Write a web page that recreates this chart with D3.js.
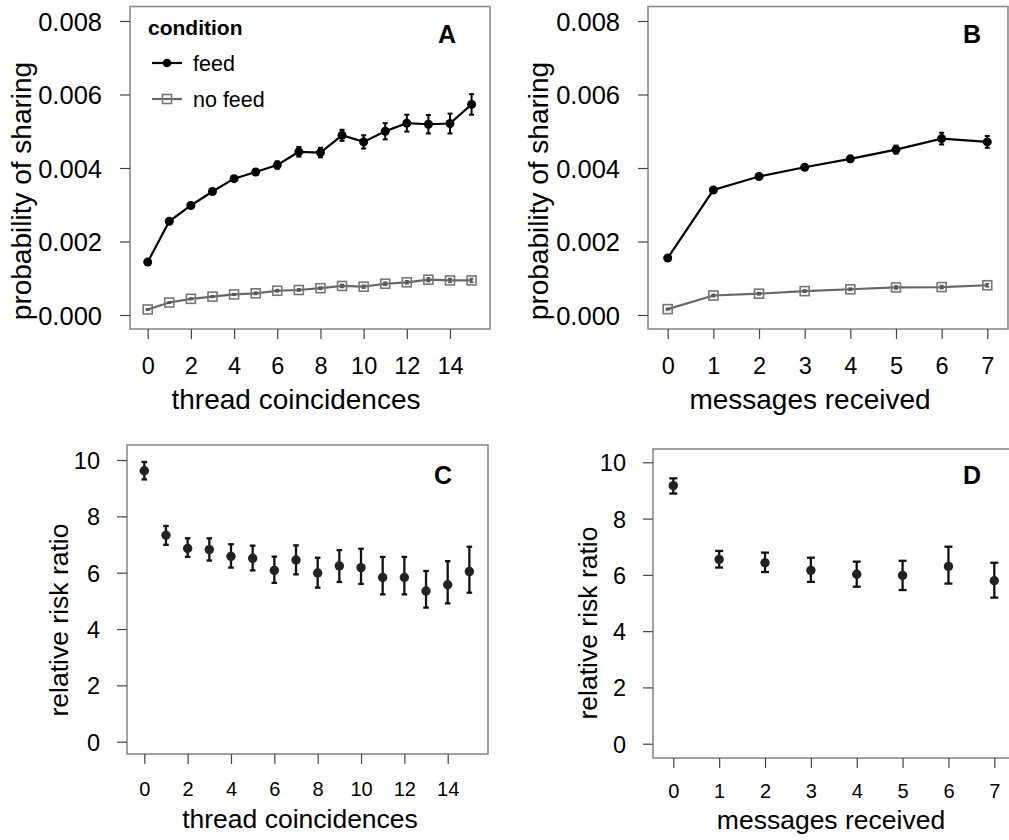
<!DOCTYPE html>
<html>
<head>
<meta charset="utf-8">
<script src="https://cdn.jsdelivr.net/npm/d3@7"></script>
<style>
  html, body { margin: 0; padding: 0; background: #fff; }
  svg { display: block; font-family: "Liberation Sans", Arial, Helvetica, sans-serif; }
</style>
</head>
<body>
<svg id="fig" width="1009" height="840"></svg>
<script>
// ---- data ----
const coincidences = d3.range(0, 16);          // thread coincidences 0..15
const messages = d3.range(0, 8);               // messages received 0..7

// panel A: probability of sharing by thread coincidences
const feedA     = [0.00144, 0.00255, 0.00298, 0.00336, 0.00371, 0.00389, 0.00408, 0.00444, 0.00442, 0.00489, 0.00471, 0.00500, 0.00522, 0.00519, 0.00521, 0.00573];
const feedAErr  = [0.00003, 0.00005, 0.00006, 0.00006, 0.00007, 0.00008, 0.00010, 0.00013, 0.00013, 0.00015, 0.00018, 0.00022, 0.00023, 0.00025, 0.00027, 0.00028];
const noFeedA    = [0.00015, 0.00034, 0.00044, 0.00050, 0.00056, 0.00059, 0.00066, 0.00068, 0.00073, 0.00079, 0.00077, 0.00085, 0.00089, 0.00096, 0.00094, 0.00094];
const noFeedAErr = [0.00002, 0.00002, 0.00002, 0.00002, 0.00002, 0.00003, 0.00003, 0.00003, 0.00003, 0.00004, 0.00004, 0.00004, 0.00004, 0.00005, 0.00005, 0.00005];

// panel B: probability of sharing by messages received
const feedB     = [0.00155, 0.00340, 0.00377, 0.00402, 0.00425, 0.00450, 0.00480, 0.00471];
const feedBErr  = [0.00003, 0.00004, 0.00005, 0.00007, 0.00008, 0.00011, 0.00016, 0.00016];
const noFeedB    = [0.00016, 0.00053, 0.00058, 0.00065, 0.00070, 0.00075, 0.00076, 0.00081];
const noFeedBErr = [0.00002, 0.00003, 0.00003, 0.00003, 0.00003, 0.00004, 0.00004, 0.00004];

// panel C: relative risk ratio by thread coincidences (estimate, lower, upper)
const rrC    = [9.62, 7.33, 6.86, 6.82, 6.58, 6.51, 6.08, 6.45, 5.99, 6.24, 6.18, 5.83, 5.83, 5.35, 5.57, 6.04];
const rrCLow = [9.31, 6.99, 6.56, 6.43, 6.18, 6.08, 5.64, 5.94, 5.47, 5.67, 5.60, 5.23, 5.23, 4.76, 4.91, 5.29];
const rrCUp  = [9.93, 7.66, 7.22, 7.22, 7.01, 6.96, 6.57, 6.97, 6.53, 6.80, 6.85, 6.56, 6.56, 6.06, 6.41, 6.92];

// panel D: relative risk ratio by messages received
const rrD    = [9.17, 6.55, 6.43, 6.16, 6.02, 5.98, 6.30, 5.79];
const rrDLow = [8.89, 6.26, 6.10, 5.75, 5.58, 5.46, 5.69, 5.19];
const rrDUp  = [9.43, 6.85, 6.79, 6.61, 6.47, 6.50, 7.00, 6.43];

// tick values
const probTicks = [0, 0.002, 0.004, 0.006, 0.008];
const rrTicks = [0, 2, 4, 6, 8, 10];
const coincTicks = [0, 2, 4, 6, 8, 10, 12, 14];
const msgTicks = [0, 1, 2, 3, 4, 5, 6, 7];

const conditions = ["feed", "no feed"];

// ---- drawing ----
const svg = d3.select("#fig");
const FEED = "#000";
const NOFEED_LINE = "#666";
const NOFEED_PT = "#777";
const BOX = "#8a8a8a";

function frame(p) {
  const g = svg.append("g");
  g.append("rect")
    .attr("x", p.box[0]).attr("y", p.box[1])
    .attr("width", p.box[2] - p.box[0]).attr("height", p.box[3] - p.box[1])
    .attr("fill", "none").attr("stroke", BOX).attr("stroke-width", 1.6);

  const yAxis = d3.axisLeft(p.y).tickValues(p.yTicks).tickSize(10).tickPadding(0).tickFormat(p.yFmt);
  const ya = g.append("g").attr("transform", `translate(${p.box[0]},0)`).call(yAxis);
  ya.select(".domain").remove();
  ya.selectAll(".tick line").attr("stroke", "#444").attr("stroke-width", 1.2);
  ya.selectAll(".tick text")
    .attr("x", -p.yLabelGap).attr("dy", "0.36em")
    .attr("font-size", p.yTickSize).attr("fill", "#000")
    .attr("font-family", "Liberation Sans, Arial, sans-serif");

  const xAxis = d3.axisBottom(p.x).tickValues(p.xTicks).tickSize(10).tickFormat(d3.format("d"));
  const xa = g.append("g").attr("transform", `translate(0,${p.box[3]})`).call(xAxis);
  xa.select(".domain").remove();
  xa.selectAll(".tick line").attr("stroke", "#444").attr("stroke-width", 1.2);
  xa.selectAll(".tick text")
    .attr("y", p.xLabelBase - p.box[3]).attr("dy", 0)
    .attr("font-size", p.xTickSize).attr("fill", "#000")
    .attr("font-family", "Liberation Sans, Arial, sans-serif");

  g.append("text").attr("x", p.xTitle[0]).attr("y", p.xTitle[1])
    .attr("text-anchor", "middle").attr("font-size", p.titleSize).text(p.xLabel);
  g.append("text")
    .attr("transform", `translate(${p.yTitle[0]},${p.yTitle[1]}) rotate(-90)`)
    .attr("text-anchor", "middle").attr("font-size", p.titleSize).text(p.yLabel);

  g.append("text").attr("x", p.tag[0]).attr("y", p.tag[1])
    .attr("text-anchor", "middle").attr("font-size", 25).attr("font-weight", "bold").text(p.tagText);
  return g;
}

function errBars(g, x, y, xs, lo, hi, color, width, cap) {
  const eb = g.append("g").attr("stroke", color).attr("stroke-width", width).attr("fill", "none");
  xs.forEach((d, i) => {
    eb.append("line").attr("x1", x(d)).attr("x2", x(d)).attr("y1", y(lo[i])).attr("y2", y(hi[i]));
    eb.append("line").attr("x1", x(d) - cap).attr("x2", x(d) + cap).attr("y1", y(lo[i])).attr("y2", y(lo[i]));
    eb.append("line").attr("x1", x(d) - cap).attr("x2", x(d) + cap).attr("y1", y(hi[i])).attr("y2", y(hi[i]));
  });
}

function probPanel(p, xs, feed, feedErr, noFeed, noFeedErr) {
  const g = frame(p);
  const line = d3.line().x((d, i) => p.x(xs[i])).y(d => p.y(d));

  // no feed
  g.append("path").datum(noFeed).attr("d", line)
    .attr("fill", "none").attr("stroke", NOFEED_LINE).attr("stroke-width", 2.2);
  errBars(g, p.x, p.y, xs, noFeed.map((v, i) => v - noFeedErr[i]), noFeed.map((v, i) => v + noFeedErr[i]), "#555", 1.6, 2);
  g.selectAll(".sq").data(noFeed).enter().append("rect")
    .attr("x", (d, i) => p.x(xs[i]) - 4.5).attr("y", d => p.y(d) - 4.5)
    .attr("width", 9).attr("height", 9)
    .attr("fill", "none").attr("stroke", NOFEED_PT).attr("stroke-width", 1.6);

  // feed
  g.append("path").datum(feed).attr("d", line)
    .attr("fill", "none").attr("stroke", FEED).attr("stroke-width", 2.2);
  errBars(g, p.x, p.y, xs, feed.map((v, i) => v - feedErr[i]), feed.map((v, i) => v + feedErr[i]), FEED, 2, 2.5);
  g.selectAll(".dot").data(feed).enter().append("circle")
    .attr("cx", (d, i) => p.x(xs[i])).attr("cy", d => p.y(d)).attr("r", 4.5)
    .attr("fill", FEED);
  return g;
}

function rrPanel(p, xs, est, lo, hi, cap) {
  const g = frame(p);
  errBars(g, p.x, p.y, xs, lo, hi, "#111", 2.3, cap);
  g.selectAll(".dot").data(est).enter().append("circle")
    .attr("cx", (d, i) => p.x(xs[i])).attr("cy", d => p.y(d)).attr("r", 4.7)
    .attr("fill", "#222");
  return g;
}

const fmtProb = d3.format(".3f");

// Panel A
probPanel({
  box: [130, 6.5, 490, 329],
  x: d3.scaleLinear().domain([0, 14]).range([147.7, 450]),
  y: d3.scaleLinear().domain([0, 0.008]).range([315, 21]),
  yTicks: probTicks, xTicks: coincTicks, yFmt: fmtProb,
  yTickSize: 25.5, xTickSize: 23.5, titleSize: 28, yLabelGap: 28, xLabelBase: 374,
  xLabel: "thread coincidences", yLabel: "probability of sharing",
  xTitle: [296, 409], yTitle: [31, 191],
  tag: [447, 43], tagText: "A"
}, coincidences, feedA, feedAErr, noFeedA, noFeedAErr);

// legend in panel A
const leg = svg.append("g");
leg.append("text").attr("x", 148).attr("y", 35).attr("font-size", 21).attr("font-weight", "bold").text("condition");
conditions.forEach((c, i) => {
  const ly = i === 0 ? 63 : 99;
  const isFeed = c === "feed";
  leg.append("line").attr("x1", 152).attr("x2", 182).attr("y1", ly).attr("y2", ly)
    .attr("stroke", isFeed ? FEED : NOFEED_LINE).attr("stroke-width", 2.2);
  if (isFeed) {
    leg.append("circle").attr("cx", 167).attr("cy", ly).attr("r", 4.3).attr("fill", FEED);
  } else {
    leg.append("rect").attr("x", 162.5).attr("y", ly - 4.5).attr("width", 9).attr("height", 9)
      .attr("fill", "none").attr("stroke", NOFEED_PT).attr("stroke-width", 1.6);
  }
  leg.append("text").attr("x", 193).attr("y", ly + 8).attr("font-size", 21.5).text(c);
});

// Panel B
probPanel({
  box: [648, 6.5, 1008, 329],
  x: d3.scaleLinear().domain([0, 7]).range([667.7, 987.3]),
  y: d3.scaleLinear().domain([0, 0.008]).range([315, 21]),
  yTicks: probTicks, xTicks: msgTicks, yFmt: fmtProb,
  yTickSize: 25.5, xTickSize: 23.5, titleSize: 28, yLabelGap: 28, xLabelBase: 374,
  xLabel: "messages received", yLabel: "probability of sharing",
  xTitle: [810, 409], yTitle: [548, 191],
  tag: [972, 43], tagText: "B"
}, messages, feedB, feedBErr, noFeedB, noFeedBErr);

// Panel C
rrPanel({
  box: [127, 445, 488, 754],
  x: d3.scaleLinear().domain([0, 14]).range([144.3, 447.7]),
  y: d3.scaleLinear().domain([0, 10]).range([741.7, 460]),
  yTicks: rrTicks, xTicks: coincTicks, yFmt: d3.format("d"),
  yTickSize: 23.5, xTickSize: 20, titleSize: 26.5, yLabelGap: 27, xLabelBase: 796,
  xLabel: "thread coincidences", yLabel: "relative risk ratio",
  xTitle: [300, 828], yTitle: [68, 620],
  tag: [443, 484], tagText: "C"
}, coincidences, rrC, rrCLow, rrCUp, 2.8);

// Panel D
rrPanel({
  box: [653, 449, 1012, 758],
  x: d3.scaleLinear().domain([0, 7]).range([673.3, 994.3]),
  y: d3.scaleLinear().domain([0, 10]).range([743.7, 462.3]),
  yTicks: rrTicks, xTicks: msgTicks, yFmt: d3.format("d"),
  yTickSize: 23.5, xTickSize: 20, titleSize: 26.5, yLabelGap: 27, xLabelBase: 798,
  xLabel: "messages received", yLabel: "relative risk ratio",
  xTitle: [831, 829], yTitle: [597, 623],
  tag: [972, 484], tagText: "D"
}, messages, rrD, rrDLow, rrDUp, 4);
</script>
</body>
</html>
